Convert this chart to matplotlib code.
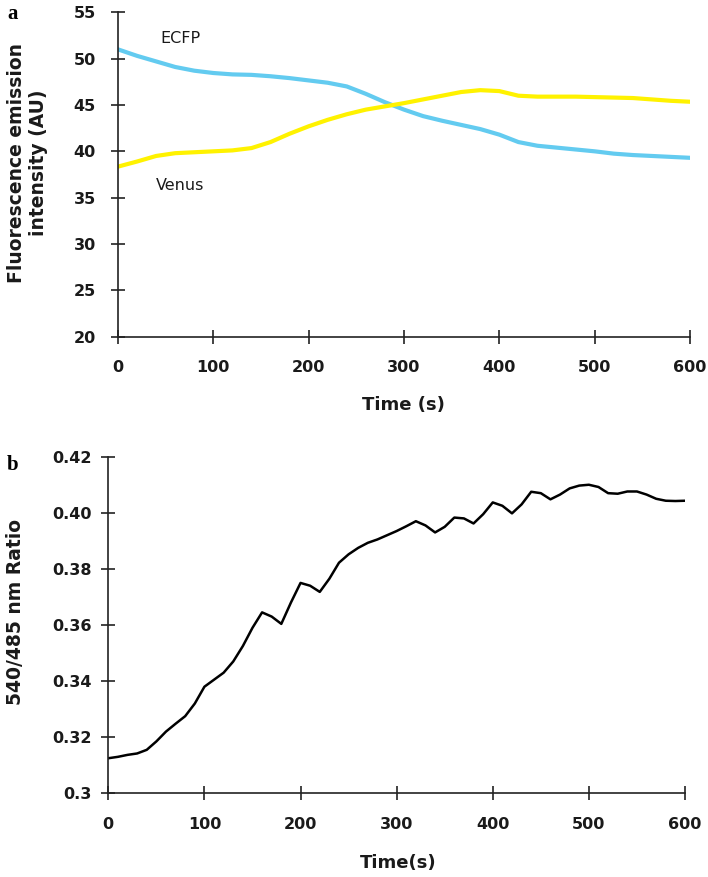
import matplotlib
matplotlib.use('Agg')
import matplotlib.pyplot as plt

plt.rcParams['font.family'] = ['DejaVu Sans']

# panel a: fluorescence emission (20 s steps)
time_a = [0, 20, 40, 60, 80, 100, 120, 140, 160, 180, 200, 220, 240, 260, 280, 300,
          320, 340, 360, 380, 400, 420, 440, 460, 480, 500, 520, 540, 560, 580, 600]
ecfp = [51.0, 50.3, 49.7, 49.1, 48.7, 48.45, 48.3, 48.25, 48.1, 47.9, 47.65, 47.4, 47.0,
        46.2, 45.3, 44.5, 43.8, 43.3, 42.85, 42.4, 41.8, 41.0, 40.6, 40.4, 40.2, 40.0,
        39.75, 39.6, 39.5, 39.4, 39.3]
venus = [38.35, 38.9, 39.5, 39.8, 39.9, 40.0, 40.1, 40.35, 41.0, 41.9, 42.7, 43.4, 44.0,
         44.5, 44.85, 45.2, 45.6, 46.0, 46.4, 46.6, 46.5, 46.0, 45.9, 45.9, 45.9, 45.85,
         45.8, 45.75, 45.6, 45.45, 45.35]

# panel b: 540/485 ratio (10 s steps)
time_b = list(range(0, 601, 10))
ratio = [0.3125, 0.3130, 0.3137, 0.3142, 0.3155, 0.3185, 0.3220, 0.3248, 0.3275, 0.3320,
         0.3380, 0.3405, 0.3430, 0.3470, 0.3525, 0.3590, 0.3645, 0.3630, 0.3604, 0.3680,
         0.3750, 0.3740, 0.3718, 0.3765, 0.3822, 0.3852, 0.3875, 0.3893, 0.3905, 0.3920,
         0.3935, 0.3952, 0.3970, 0.3955, 0.3930, 0.3950, 0.3983, 0.3980, 0.3962, 0.3995,
         0.4037, 0.4025, 0.3998, 0.4030, 0.4075, 0.4070, 0.4048, 0.4065, 0.4087, 0.4097,
         0.4100, 0.4092, 0.4070, 0.4068, 0.4076, 0.4076, 0.4065, 0.4050, 0.4043, 0.4042,
         0.4043]

xticks = [0, 100, 200, 300, 400, 500, 600]
yticks_a = [20, 25, 30, 35, 40, 45, 50, 55]
yticks_b = [0.30, 0.32, 0.34, 0.36, 0.38, 0.40, 0.42]
yticklabels_b = ['0.3', '0.32', '0.34', '0.36', '0.38', '0.40', '0.42']

W, H = 708, 877
fig = plt.figure(figsize=(W / 100, H / 100), dpi=100)

ax1 = fig.add_axes([118 / W, 1 - 336.7 / H, 572 / W, 324.4 / H])
ax2 = fig.add_axes([108.3 / W, 1 - 793.3 / H, 576.7 / W, 336.6 / H])


def style_axis(ax, ypad):
    for side in ['top', 'right']:
        ax.spines[side].set_visible(False)
    for side in ['left', 'bottom']:
        ax.spines[side].set_linewidth(1.2)
        ax.spines[side].set_color('#222222')
    ax.tick_params(direction='inout', length=10, width=1.2, color='#222222',
                   labelsize=11.5)
    ax.tick_params(axis='x', pad=12)
    ax.tick_params(axis='y', pad=ypad)
    for lab in ax.get_xticklabels() + ax.get_yticklabels():
        lab.set_fontweight('bold')
        lab.set_color('#1a1a1a')


# panel a
ax1.plot(time_a, ecfp, color='#63CBF0', lw=3.0, solid_joinstyle='round')
ax1.plot(time_a, venus, color='#FFF200', lw=3.0, solid_joinstyle='round')
ax1.set_xlim(0, 600)
ax1.set_ylim(20, 55)
ax1.set_xticks(xticks)
ax1.set_yticks(yticks_a)
style_axis(ax1, 11)
ax1.text(66, 52.2, 'ECFP', fontsize=11.5, ha='center', va='center', color='#1a1a1a')
ax1.text(65, 36.3, 'Venus', fontsize=11.5, ha='center', va='center', color='#1a1a1a')

# panel b
ax2.plot(time_b, ratio, color='black', lw=1.8, solid_joinstyle='round')
ax2.set_xlim(0, 600)
ax2.set_ylim(0.30, 0.42)
ax2.set_xticks(xticks)
ax2.set_yticks(yticks_b)
ax2.set_yticklabels(yticklabels_b)
style_axis(ax2, 7)

# axis titles
fig.text(28 / W, 1 - 163 / H, 'Fluorescence emission\nintensity (AU)', rotation=90,
         ha='center', va='center', fontsize=13.5, fontweight='bold', linespacing=1.2,
         color='#1a1a1a')
fig.text(403 / W, 1 - 405 / H, 'Time (s)', ha='center', va='center', fontsize=13,
         fontweight='bold', color='#1a1a1a')
fig.text(16 / W, 1 - 612 / H, '540/485 nm Ratio', rotation=90, ha='center', va='center',
         fontsize=13.5, fontweight='bold', color='#1a1a1a')
fig.text(398 / W, 1 - 863 / H, 'Time(s)', ha='center', va='center', fontsize=13,
         fontweight='bold', color='#1a1a1a')

# panel letters
fig.text(13 / W, 1 - 14 / H, 'a', ha='center', va='center', fontsize=15,
         fontweight='bold', family='Liberation Serif')
fig.text(13 / W, 1 - 465 / H, 'b', ha='center', va='center', fontsize=15,
         fontweight='bold', family='Liberation Serif')

fig.savefig('out.png', dpi=100)
